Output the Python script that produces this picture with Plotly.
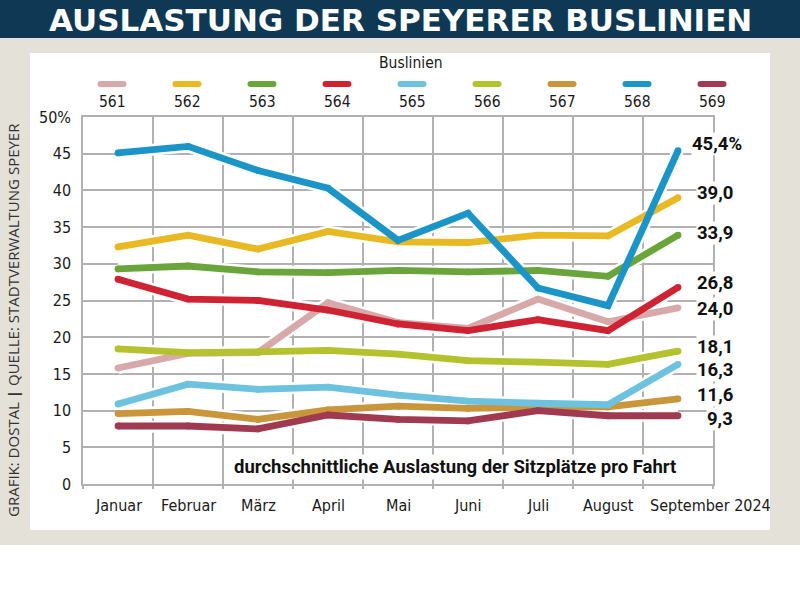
import plotly.graph_objects as go

# ---------------- data ----------------
months = ["Januar", "Februar", "März", "April", "Mai", "Juni", "Juli", "August", "September 2024"]
lines = ["561", "562", "563", "564", "565", "566", "567", "568", "569"]

v561 = [15.8, 17.8, 17.9, 24.7, 22.0, 21.2, 25.2, 22.1, 24.0]
v562 = [32.3, 33.9, 32.0, 34.4, 33.0, 32.9, 33.9, 33.8, 39.0]
v563 = [29.3, 29.7, 28.9, 28.8, 29.1, 28.9, 29.1, 28.3, 33.9]
v564 = [27.9, 25.2, 25.0, 23.7, 21.8, 20.9, 22.4, 20.9, 26.8]
v565 = [10.9, 13.6, 12.9, 13.2, 12.1, 11.3, 11.0, 10.8, 16.3]
v566 = [18.4, 17.9, 18.0, 18.2, 17.7, 16.8, 16.6, 16.3, 18.1]
v567 = [9.6, 9.9, 8.8, 10.1, 10.6, 10.3, 10.5, 10.5, 11.6]
v568 = [45.1, 46.0, 42.7, 40.3, 33.2, 36.9, 26.7, 24.3, 45.4]
v569 = [7.9, 7.9, 7.5, 9.4, 8.8, 8.6, 10.0, 9.3, 9.3]

y_ticks = [0, 5, 10, 15, 20, 25, 30, 35, 40, 45, 50]
y_ticktext = ["0", "5", "10", "15", "20", "25", "30", "35", "40", "45", "50%"]

series = [v561, v562, v563, v564, v565, v566, v567, v568, v569]

# ---------------- styles ----------------
colors = ["#d8a9a9", "#e8b923", "#69a53b", "#cf2333", "#6dc3df",
          "#b3c22d", "#c9963b", "#1b95c8", "#a03a50"]
draw_order = [6, 8, 0, 5, 4, 1, 2, 3, 7]
label_shift = [-1, 5, 2, 4, -6, 4, 4, 7, -3]

COND = "DejaVu Sans Condensed, sans-serif"
BOLDF = "Roboto, DejaVu Sans Condensed, sans-serif"
GRID = "#b1b1b1"

L, R, T, B = 83, 713, 117, 484
W, H = 800, 608


def xp(px):
    return (px - L) / (R - L)


def yp(py):
    return (B - py) / (B - T)


fig = go.Figure()
xs = list(range(len(months)))

# white halos under the lines (cut the grid)
for i in draw_order:
    fig.add_trace(go.Scatter(x=xs, y=series[i], mode="lines",
                             line=dict(color="white", width=12),
                             hoverinfo="skip", showlegend=False))
for i in draw_order:
    fig.add_trace(go.Scatter(x=xs, y=series[i], mode="lines+markers", name=lines[i],
                             line=dict(color=colors[i], width=6.8),
                             marker=dict(color=colors[i], size=6.8, line=dict(width=0)),
                             showlegend=False))

shapes = []
# background blocks
shapes.append(dict(type="rect", xref="paper", yref="paper", x0=xp(0), x1=xp(W), y0=yp(545), y1=yp(38),
                   fillcolor="#e4e1d8", line=dict(width=0), layer="below"))
shapes.append(dict(type="rect", xref="paper", yref="paper", x0=xp(0), x1=xp(W), y0=yp(38), y1=yp(0),
                   fillcolor="#0e3854", line=dict(width=0), layer="below"))
shapes.append(dict(type="rect", xref="paper", yref="paper", x0=xp(30), x1=xp(770), y0=yp(530), y1=yp(53),
                   fillcolor="white", line=dict(width=0), layer="below"))

annotations = []
# legend
annotations.append(dict(text="Buslinien", xref="paper", yref="paper", x=xp(411), y=yp(63),
                        showarrow=False, font=dict(family=COND, size=15.5, color="#1a1a1a"),
                        xanchor="center", yanchor="middle"))
for i, name in enumerate(lines):
    cx = 112 + 75 * i
    shapes.append(dict(type="line", xref="paper", yref="paper", x0=xp(cx - 11.5), x1=xp(cx + 11.5),
                       y0=yp(84), y1=yp(84), line=dict(color=colors[i], width=6)))
    for ex in (cx - 11.5, cx + 11.5):
        shapes.append(dict(type="circle", xref="paper", yref="paper", x0=xp(ex - 3), x1=xp(ex + 3),
                           y0=yp(87), y1=yp(81), fillcolor=colors[i], line=dict(width=0)))
    annotations.append(dict(text=name, xref="paper", yref="paper", x=xp(cx), y=yp(102),
                            showarrow=False, font=dict(family=COND, size=15.5, color="#1a1a1a"),
                            xanchor="center", yanchor="middle"))

# month labels
for i, m in enumerate(months):
    if i == len(months) - 1:
        annotations.append(dict(text=m, xref="x", yref="paper", x=(648 - 118) / 70, y=yp(505),
                                showarrow=False, font=dict(family=COND, size=16, color="#1a1a1a"),
                                xanchor="left", yanchor="middle"))
    else:
        annotations.append(dict(text=m, xref="x", yref="paper", x=i, y=yp(505),
                                showarrow=False, font=dict(family=COND, size=16, color="#1a1a1a"),
                                xanchor="center", yanchor="middle"))

# end value labels
for i, vals in enumerate(series):
    last = vals[-1]
    txt = f"{last:.1f}".replace(".", ",")
    if lines[i] == "568":
        annotations.append(dict(text="<b>" + txt + "%</b>", xref="paper", yref="y", x=xp(691), y=last,
                                yshift=label_shift[i], showarrow=False, bgcolor="white", borderpad=0,
                                font=dict(family=BOLDF, size=18.5, color="#111"),
                                xanchor="left", yanchor="middle"))
    else:
        annotations.append(dict(text="<b>" + txt + "</b>", xref="paper", yref="y", x=xp(734), y=last,
                                yshift=label_shift[i], showarrow=False, bgcolor="white", borderpad=0,
                                font=dict(family=BOLDF, size=18.5, color="#111"),
                                xanchor="right", yanchor="middle"))

# subtitle inside the plot
annotations.append(dict(text="<b>durchschnittliche Auslastung der Sitzplätze pro Fahrt</b>",
                        xref="paper", yref="paper", x=xp(455), y=yp(467), showarrow=False,
                        bgcolor="white", borderpad=1,
                        font=dict(family=BOLDF, size=18.5, color="#111"),
                        xanchor="center", yanchor="middle"))

# title
annotations.append(dict(text="<b>AUSLASTUNG DER SPEYERER BUSLINIEN</b>", xref="paper", yref="paper",
                        x=xp(400), y=yp(20), showarrow=False,
                        font=dict(family="DejaVu Sans", size=31, color="white"),
                        xanchor="center", yanchor="middle"))

# source (rotated)
annotations.append(dict(text="GRAFIK: DOSTAL <b>|</b> QUELLE: STADTVERWALTUNG SPEYER", xref="paper", yref="paper",
                        x=xp(13), y=yp(320), showarrow=False, textangle=-90,
                        font=dict(family="Open Sans, Noto Sans, sans-serif", size=15, color="#333"),
                        xanchor="center", yanchor="middle"))

fig.update_layout(
    width=W, height=H,
    margin=dict(l=L, r=W - R, t=T, b=H - B, pad=0),
    paper_bgcolor="white", plot_bgcolor="white",
    shapes=shapes, annotations=annotations,
    showlegend=False,
    xaxis=dict(range=[-0.5, 8.5], tickvals=[k - 0.5 for k in range(len(months) + 1)],
               showticklabels=False, showgrid=True, gridcolor=GRID, gridwidth=1.5,
               zeroline=False, showline=True, linecolor=GRID, linewidth=1.5, mirror=True,
               ticks="outside", ticklen=3, tickcolor=GRID, tickwidth=1.5, fixedrange=True),
    yaxis=dict(range=[0, 50], tickvals=y_ticks, ticktext=y_ticktext,
               showgrid=True, gridcolor=GRID, gridwidth=1.5, zeroline=False,
               showline=True, linecolor=GRID, linewidth=1.5, mirror=True,
               ticks="", ticklabelstandoff=7,
               tickfont=dict(family=COND, size=16, color="#1a1a1a"), fixedrange=True),
)

fig.write_html("out.html")
